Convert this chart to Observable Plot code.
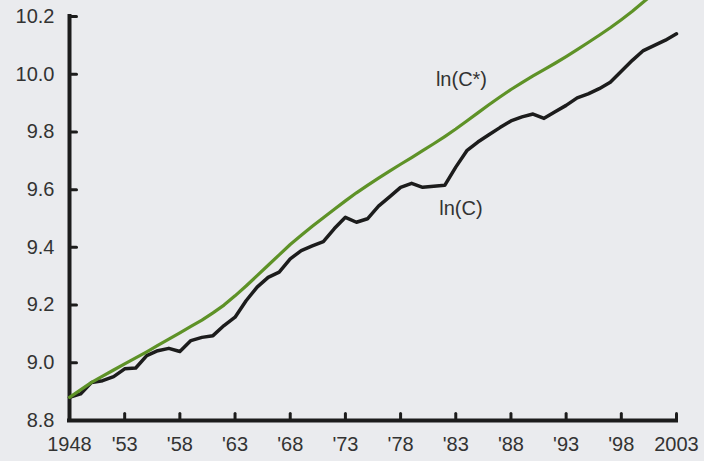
<!DOCTYPE html>
<html>
<head>
<meta charset="utf-8">
<script src="https://cdn.jsdelivr.net/npm/d3@7"></script>
<script src="https://cdn.jsdelivr.net/npm/@observablehq/plot@0.6"></script>
<style>
  html, body { margin: 0; padding: 0; background: #eaebee; }
</style>
</head>
<body>
<div id="chart"></div>
<script>
const years = [1948,1949,1950,1951,1952,1953,1954,1955,1956,1957,1958,1959,1960,1961,1962,1963,1964,1965,1966,1967,1968,1969,1970,1971,1972,1973,1974,1975,1976,1977,1978,1979,1980,1981,1982,1983,1984,1985,1986,1987,1988,1989,1990,1991,1992,1993,1994,1995,1996,1997,1998,1999,2000,2001,2002,2003];

const lnC = [8.880,8.892,8.932,8.938,8.952,8.979,8.982,9.025,9.042,9.050,9.039,9.077,9.088,9.094,9.129,9.158,9.215,9.262,9.296,9.314,9.360,9.389,9.405,9.420,9.465,9.504,9.487,9.499,9.543,9.575,9.608,9.622,9.608,9.612,9.615,9.678,9.735,9.765,9.790,9.815,9.838,9.852,9.862,9.847,9.870,9.892,9.918,9.932,9.950,9.972,10.010,10.048,10.082,10.100,10.118,10.140];

const lnCStar = [8.880,8.906,8.932,8.954,8.975,8.996,9.017,9.038,9.060,9.082,9.104,9.126,9.148,9.173,9.200,9.232,9.266,9.302,9.338,9.374,9.410,9.442,9.473,9.503,9.532,9.561,9.589,9.615,9.640,9.664,9.688,9.711,9.735,9.759,9.784,9.810,9.838,9.866,9.894,9.921,9.947,9.971,9.994,10.016,10.038,10.061,10.085,10.110,10.135,10.161,10.189,10.218,10.250,10.282,10.315,10.348];

const xTickYears = [1948,1953,1958,1963,1968,1973,1978,1983,1988,1993,1998,2003];
const xTickLabels = ["1948","'53","'58","'63","'68","'73","'78","'83","'88","'93","'98","2003"];
const yTicks = [8.8,9.0,9.2,9.4,9.6,9.8,10.0,10.2];

const seriesLabels = ["ln(C*)","ln(C)"];
const labelYears = [1981.2, 1981.5];
const labelValues = [9.982, 9.533];

const black = "#1c1c1c";
const green = "#5e9227";
const textColor = "#333333";

const dataC = years.map((y, i) => ({year: y, value: lnC[i]}));
const dataCStar = years.map((y, i) => ({year: y, value: lnCStar[i]}));
const labelData = seriesLabels.map((t, i) => ({text: t, year: labelYears[i], value: labelValues[i]}));

// a plain tick shape: a straight segment of length l pointing in the vector's direction
const tickShape = {draw(context, l) { context.moveTo(0, 0); context.lineTo(0, -l); }};

const chart = Plot.plot({
  width: 704,
  height: 461,
  marginLeft: 69,
  marginRight: 28,
  marginTop: 16,
  marginBottom: 41,
  style: {
    background: "#eaebee",
    fontFamily: "'Liberation Sans', Arial, sans-serif",
    fontSize: "20px",
    color: textColor
  },
  x: {domain: [1948, 2003]},
  y: {domain: [8.8, 10.2]},
  marks: [
    Plot.axisX({
      ticks: xTickYears,
      tickFormat: d => xTickLabels[xTickYears.indexOf(d)],
      tickSize: 0,
      tickPadding: 16,
      label: null,
      fontSize: 20
    }),
    Plot.axisY({
      ticks: yTicks,
      tickFormat: d3.format(".1f"),
      tickSize: 0,
      tickPadding: 15,
      label: null,
      fontSize: 20
    }),
    Plot.vector(xTickYears, {x: d => d, y: 8.8, length: 7, rotate: 0, anchor: "start", shape: tickShape, stroke: black, strokeWidth: 3}),
    Plot.vector(yTicks, {x: 1948, y: d => d, length: 7, rotate: 90, anchor: "start", shape: tickShape, stroke: black, strokeWidth: 3}),
    Plot.ruleY([8.8], {stroke: black, strokeWidth: 4, strokeLinecap: "square"}),
    Plot.ruleX([1948], {stroke: black, strokeWidth: 4, strokeLinecap: "square"}),
    Plot.line(dataC, {x: "year", y: "value", stroke: black, strokeWidth: 3.5}),
    Plot.line(dataCStar, {x: "year", y: "value", stroke: green, strokeWidth: 3.2}),
    Plot.text(labelData, {x: "year", y: "value", text: "text", textAnchor: "start", lineAnchor: "middle", fill: textColor, fontSize: 20})
  ]
});

document.getElementById("chart").appendChild(chart);
</script>
</body>
</html>
